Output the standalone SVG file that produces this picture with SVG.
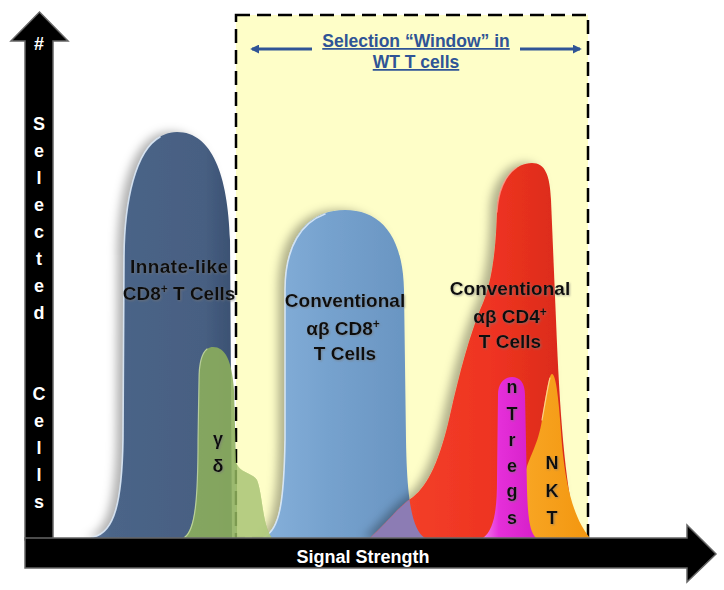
<svg xmlns="http://www.w3.org/2000/svg" width="724" height="590" viewBox="0 0 724 590">
  <defs>
    <style>
      .lbl { font-family: "Liberation Sans", Arial, sans-serif; font-weight: bold; font-size: 19px; fill: #111; text-anchor: middle; }
      .vlbl { font-family: "Liberation Sans", Arial, sans-serif; font-weight: bold; font-size: 18px; fill: #111; text-anchor: middle; }
      .axl { font-family: "Liberation Sans", Arial, sans-serif; font-weight: bold; font-size: 18px; fill: #fff; text-anchor: middle; }
      .hdr { font-family: "Liberation Sans", Arial, sans-serif; font-weight: bold; font-size: 17.5px; fill: #2F5496; text-anchor: middle; text-decoration: underline; }
      .axis { fill: #000; stroke: #666; stroke-width: 1.5; }
      .hl { fill: none; stroke: #DCE9F7; stroke-width: 1.6; opacity: 0.9; stroke-linecap: round; }
      .warr { fill: none; stroke: #2F5496; stroke-width: 3; }
    </style>
    <filter id="shadow" x="-30%" y="-10%" width="150%" height="120%">
      <feDropShadow dx="-7" dy="0" stdDeviation="5" flood-color="#000" flood-opacity="0.3"/>
    </filter>
    <filter id="tshadow" x="-10%" y="-30%" width="120%" height="160%">
      <feDropShadow dx="1" dy="1" stdDeviation="1" flood-color="#777" flood-opacity="0.6"/>
    </filter>
    <linearGradient id="gDark" x1="0" y1="0" x2="1" y2="0">
      <stop offset="0" stop-color="#5A749C"/>
      <stop offset="0.15" stop-color="#4B6588"/>
      <stop offset="0.8" stop-color="#475F82"/>
      <stop offset="1" stop-color="#3B5172"/>
    </linearGradient>
    <linearGradient id="gLight" x1="0" y1="0" x2="1" y2="0">
      <stop offset="0" stop-color="#86B0DA"/>
      <stop offset="0.4" stop-color="#76A2CE"/>
      <stop offset="1" stop-color="#6792BF"/>
    </linearGradient>
    <linearGradient id="gRed" x1="0" y1="0" x2="1" y2="0">
      <stop offset="0" stop-color="#F5452C"/>
      <stop offset="0.6" stop-color="#EE3321"/>
      <stop offset="1" stop-color="#D52918"/>
    </linearGradient>
    <linearGradient id="gMag" x1="0" y1="0" x2="1" y2="0">
      <stop offset="0" stop-color="#F27CEB"/>
      <stop offset="0.3" stop-color="#E52FD9"/>
      <stop offset="1" stop-color="#D51FC8"/>
    </linearGradient>
    <linearGradient id="gOr" x1="0" y1="0" x2="1" y2="0">
      <stop offset="0" stop-color="#F8A624"/>
      <stop offset="1" stop-color="#F3960F"/>
    </linearGradient>
    <clipPath id="blueClip">
      <path d="M 262 538 C 280 530, 284 500, 285 440 L 285 290 C 285 235, 310 210, 345 210 C 380 210, 403 235, 404 290 L 406 440 C 407 500, 412 530, 425 538 Z"/>
    </clipPath>
    <clipPath id="greenClip">
      <path d="M 183 538 C 195 530, 198 500, 198 440 L 199 380 C 199 355, 205 347, 213 347 C 225 347, 232 360, 234 390 L 236 462 C 240 474, 252 472, 257 480 C 263 495, 262 525, 272 538 Z"/>
    </clipPath>
    <marker id="wArrow" viewBox="0 0 10 10" refX="8" refY="5" markerWidth="3" markerHeight="3" orient="auto-start-reverse">
      <path d="M0 0 L10 5 L0 10 Z" fill="#2F5496"/>
    </marker>
  </defs>

  <rect x="0" y="0" width="724" height="590" fill="#fff"/>

  <g id="window">
    <rect x="236" y="15" width="352" height="523" fill="#FEFEC8" stroke="#000" stroke-width="2.5" stroke-dasharray="14 7"/>
    <text class="hdr" x="416" y="47">Selection “Window” in</text>
    <text class="hdr" x="416" y="68">WT T cells</text>
  </g>

  <g id="peak-innate">
    <path filter="url(#shadow)" fill="url(#gDark)" d="M 90 538 C 115 535, 122 500, 123 440 L 124 260 C 124 190, 140 132, 177 132 C 212 132, 228 175, 230 240 L 232 538 Z"/>
    <path class="hl" d="M 93 537 C 115 533, 122 500, 123 440 L 124 260 C 124 200, 136 150, 160 137"/>
    <g filter="url(#tshadow)">
      <text class="lbl" x="179" y="273" textLength="98">Innate-like</text>
      <text class="lbl" x="179" y="300">CD8<tspan font-size="12" dy="-7">+</tspan><tspan dy="7"> T Cells</tspan></text>
    </g>
  </g>

  <g id="peak-cd8">
    <path filter="url(#shadow)" fill="url(#gLight)" d="M 262 538 C 280 530, 284 500, 285 440 L 285 290 C 285 235, 310 210, 345 210 C 380 210, 403 235, 404 290 L 406 440 C 407 500, 412 530, 425 538 Z"/>
    <path class="hl" d="M 264 537 C 280 530, 284 500, 285 440 L 285 290 C 285 245, 303 222, 325 214"/>
  </g>

  <g id="peak-gd">
    <path fill="#8DAF5B" opacity="0.88" d="M 183 538 C 195 530, 198 500, 198 440 L 199 380 C 199 355, 205 347, 213 347 C 225 347, 232 360, 234 390 L 236 462 C 240 474, 252 472, 257 480 C 263 495, 262 525, 272 538 Z"/>
    <rect x="237" y="340" width="40" height="200" fill="#D6E7A2" opacity="0.45" clip-path="url(#greenClip)"/>
    <path fill="none" stroke="#C9DDA8" stroke-width="1.2" opacity="0.8" stroke-linecap="round" d="M 185 537 C 195 530, 198 500, 198 440 L 199 380 C 199 362, 202 353, 207 349"/>
    <g filter="url(#tshadow)">
      <text class="vlbl" x="218" y="445">γ</text>
      <text class="vlbl" x="218" y="472">δ</text>
    </g>
  </g>

  <g id="peak-cd4">
    <path filter="url(#shadow)" fill="url(#gRed)" d="M 370 538 C 385 525, 400 505, 413 497 C 428 485, 440 460, 450 415 C 460 370, 470 335, 480 310 C 492 285, 496 250, 497 210 C 498 185, 512 163, 532 163 C 545 163, 550 175, 551 200 L 556 320 C 560 420, 566 500, 580 538 Z"/>
    <path fill="#8C7CB4" clip-path="url(#blueClip)" d="M 370 538 C 385 525, 400 505, 413 497 C 428 485, 440 460, 450 415 C 460 370, 470 335, 480 310 C 492 285, 496 250, 497 210 C 498 185, 512 163, 532 163 C 545 163, 550 175, 551 200 L 556 320 C 560 420, 566 500, 580 538 Z"/>
    <path fill="none" stroke="#F9A08E" stroke-width="1.4" opacity="0.8" stroke-linecap="round" d="M 497 212 C 498 192, 505 175, 516 168"/>
    <g filter="url(#tshadow)">
      <text class="lbl" x="510" y="295">Conventional</text>
      <text class="lbl" x="510" y="323">αβ CD4<tspan font-size="12" dy="-7">+</tspan></text>
      <text class="lbl" x="510" y="348">T Cells</text>
    </g>
  </g>

  <g id="label-cd8">
    <g filter="url(#tshadow)">
      <text class="lbl" x="345" y="307">Conventional</text>
      <text class="lbl" x="343" y="335">αβ CD8<tspan font-size="12" dy="-7">+</tspan></text>
      <text class="lbl" x="345" y="360">T Cells</text>
    </g>
  </g>

  <g id="peak-nkt">
    <path fill="url(#gOr)" d="M 522 538 L 526 470 C 530 455, 538 445, 542 420 C 546 395, 549 374, 552 374 C 556 374, 559 400, 562 445 C 566 490, 575 520, 590 538 Z"/>
    <path fill="none" stroke="#FBD08A" stroke-width="1.2" stroke-linecap="round" d="M 542 420 C 546 398, 548 385, 550 378"/>
    <g filter="url(#tshadow)">
      <text class="vlbl" x="552" y="469">N</text>
      <text class="vlbl" x="552" y="497">K</text>
      <text class="vlbl" x="552" y="524">T</text>
    </g>
  </g>

  <g id="peak-ntregs">
    <path fill="url(#gMag)" d="M 483 538 C 494 530, 497 510, 497 480 L 498 395 C 498 383, 504 377, 512 377 C 520 377, 525 383, 525 395 L 527 490 C 528 520, 530 532, 536 538 Z"/>
    <g filter="url(#tshadow)">
      <text class="vlbl" x="512" y="393">n</text>
      <text class="vlbl" x="512" y="420">T</text>
      <text class="vlbl" x="512" y="446">r</text>
      <text class="vlbl" x="512" y="472">e</text>
      <text class="vlbl" x="512" y="497">g</text>
      <text class="vlbl" x="512" y="524">s</text>
    </g>
  </g>

  <g id="connectors">
    <line class="warr" x1="312" y1="49" x2="252" y2="49" marker-end="url(#wArrow)"/>
    <line class="warr" x1="520" y1="49" x2="580" y2="49" marker-end="url(#wArrow)"/>
    <path id="y-axis" class="axis" d="M 25 540 L 25 41 L 11 41 L 39.5 12 L 68 41 L 53 41 L 53 540 Z"/>
    <path id="x-axis" class="axis" d="M 25 538 L 687 538 L 687 525 L 716 554 L 687 582 L 687 568 L 25 568 Z"/>
  </g>

  <g id="axis-labels">
    <text class="axl" x="39" y="50">#</text>
    <text class="axl" x="39" y="130">S</text>
    <text class="axl" x="39" y="157">e</text>
    <text class="axl" x="39" y="184">l</text>
    <text class="axl" x="39" y="211">e</text>
    <text class="axl" x="39" y="238">c</text>
    <text class="axl" x="39" y="265">t</text>
    <text class="axl" x="39" y="292">e</text>
    <text class="axl" x="39" y="319">d</text>
    <text class="axl" x="39" y="400">C</text>
    <text class="axl" x="39" y="427">e</text>
    <text class="axl" x="39" y="454">l</text>
    <text class="axl" x="39" y="481">l</text>
    <text class="axl" x="39" y="508">s</text>
    <text class="axl" x="363" y="563" font-size="22">Signal Strength</text>
  </g>
</svg>
